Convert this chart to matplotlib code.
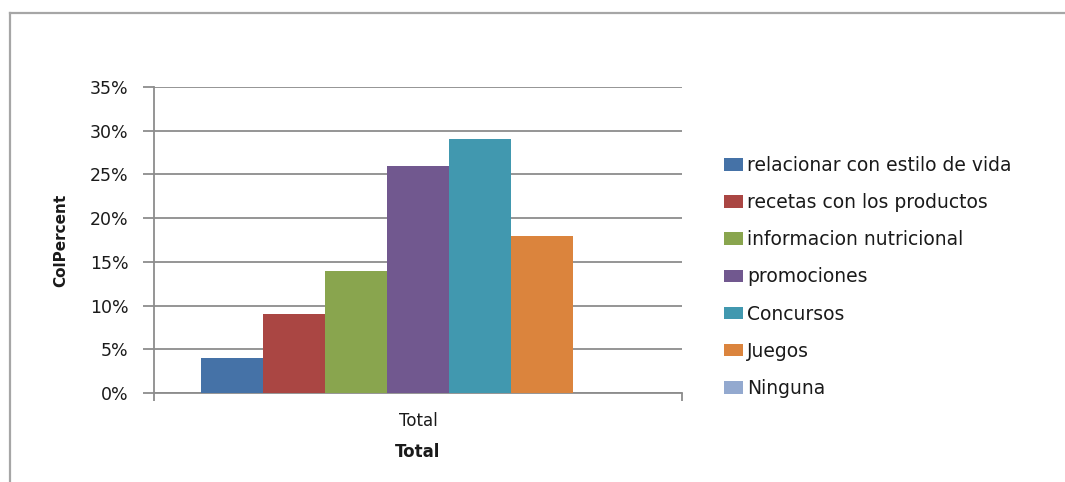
import matplotlib
matplotlib.use("Agg")
import matplotlib.pyplot as plt
from matplotlib.lines import Line2D
from matplotlib.ticker import FuncFormatter

categories = ["Total"]
series = ["relacionar con estilo de vida", "recetas con los productos",
          "informacion nutricional", "promociones", "Concursos", "Juegos", "Ninguna"]
values = [4, 9, 14, 26, 29, 18, 0]
colors = ["#4572A7", "#AA4643", "#89A54E", "#71588F", "#4198AF", "#DB843D", "#93A9CF"]
yticks = [0, 5, 10, 15, 20, 25, 30, 35]

W, H = 1065, 482
fig = plt.figure(figsize=(W / 100, H / 100), dpi=100)
plt.rcParams['font.family'] = ['DejaVu Sans']

# outer chart border
fig.add_artist(Line2D([10 / W, 1.0], [1 - 13 / H, 1 - 13 / H], transform=fig.transFigure,
                      color="#A6A6A6", lw=1.6))
fig.add_artist(Line2D([10 / W, 10 / W], [0, 1 - 13 / H], transform=fig.transFigure,
                      color="#A6A6A6", lw=1.6))

ax = fig.add_axes([154 / W, 89 / H, (682 - 154) / W, (393 - 87) / H])

group = 434 / 528
bw = group / len(series)
for i, (s, v, c) in enumerate(zip(series, values, colors)):
    off = -group / 2 + bw * (i + 0.5)
    ax.bar(0 + off, v, width=bw, color=c, label=s, zorder=3, linewidth=0)

ax.set_xlim(-0.5, 0.5)
ax.set_ylim(0, 35)
ax.set_yticks(yticks)
ax.yaxis.set_major_formatter(FuncFormatter(lambda v, p: f"{int(v)}%"))
ax.set_xticks([0])
ax.set_xticklabels(categories)
ax.set_xticks([-0.5, 0.5], minor=True)
ax.tick_params(axis='x', which='major', length=0, pad=13.5, labelsize=12, labelcolor="#1a1a1a")
ax.tick_params(axis='x', which='minor', length=6, width=1.3, color="#8C8C8C", direction='out')
ax.tick_params(axis='y', length=8, width=1.3, color="#8C8C8C", direction='out', pad=10.5,
               labelsize=12.5, labelcolor="#1a1a1a")
ax.grid(axis='y', color="#8C8C8C", lw=1.3, zorder=0)
for sp in ['top', 'right']:
    ax.spines[sp].set_visible(False)
for sp in ['left', 'bottom']:
    ax.spines[sp].set_color("#8C8C8C")
    ax.spines[sp].set_linewidth(1.3)

ax.set_xlabel("Total", fontweight='bold', fontsize=12, color="#1a1a1a")
ax.xaxis.set_label_coords(0.5, -0.165)
ax.set_ylabel("ColPercent", fontweight='bold', fontsize=11, color="#1a1a1a")
ax.yaxis.set_label_coords(-0.163, 0.5)

leg = fig.legend(loc='upper left', bbox_to_anchor=(707 / W, 1 - 139 / H), frameon=False,
                 fontsize=13.5, handlelength=1.0, handleheight=0.65, handletextpad=0.25,
                 labelspacing=0.97, labelcolor="#1a1a1a")

fig.savefig("out.png", dpi=100)
